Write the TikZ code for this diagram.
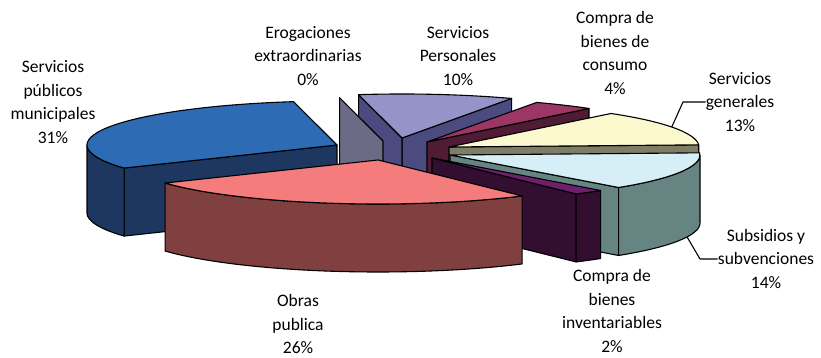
\documentclass[tikz,border=0pt]{standalone}
\usepackage{fontspec}
\setmainfont{Carlito}
\definecolor{muniTop}{RGB}{46,107,181}
\definecolor{muniSide}{RGB}{29,55,97}
\definecolor{erogSide}{RGB}{107,107,133}
\definecolor{persTop}{RGB}{148,148,200}
\definecolor{persSide}{RGB}{75,75,128}
\definecolor{consTop}{RGB}{155,54,101}
\definecolor{consSide}{RGB}{80,27,52}
\definecolor{genTop}{RGB}{252,249,206}
\definecolor{genSide}{RGB}{126,126,102}
\definecolor{subTop}{RGB}{214,238,245}
\definecolor{subSide}{RGB}{102,133,130}
\definecolor{invTop}{RGB}{110,32,110}
\definecolor{invSide}{RGB}{50,14,48}
\definecolor{obrasTop}{RGB}{244,124,124}
\definecolor{obrasSide}{RGB}{128,64,64}
\begin{document}
\begin{tikzpicture}[x=1pt, y=1pt, line join=round, x radius=250pt, y radius=44pt,
  slice/.style={draw=black, line width=1.1pt},
  pie label/.style={font=\fontsize{17.5}{23.5}\selectfont, align=center, inner sep=0pt},
  leader/.style={draw=black, line width=1.1pt}]
\useasboundingbox (0,0) rectangle (821,358);
\coordinate (pers-c) at (402,220);
\coordinate (erog-c) at (383,217);
\coordinate (cons-c) at (427,216);
\coordinate (gen-c) at (449,211);
\coordinate (sub-c) at (450,203);
\coordinate (inv-c) at (432,200);
\coordinate (muni-c) at (337,213);
\coordinate (obras-c) at (378,198);
\begin{scope}[every path/.style={slice}]
\filldraw[fill=persSide] (pers-c) -- ++(64:250pt and 44pt) -- ++(0,-68) -- ++(244:250pt and 44pt) -- cycle;
\filldraw[fill=persSide] (pers-c) -- ++(100:250pt and 44pt) -- ++(0,-68) -- ++(280:250pt and 44pt) -- cycle;
\filldraw[fill=persTop] (pers-c) -- ++(64:250pt and 44pt) arc[start angle=64, end angle=100] -- cycle;
\filldraw[fill=erogSide] (erog-c) -- ++(100:250pt and 44pt) -- ++(0,-68) -- ++(280:250pt and 44pt) -- cycle;
\filldraw[fill=consSide] (cons-c) -- ++(49.6:250pt and 44pt) -- ++(0,-68) -- ++(229.6:250pt and 44pt) -- cycle;
\filldraw[fill=consTop] (cons-c) -- ++(49.6:250pt and 44pt) arc[start angle=49.6, end angle=64] -- cycle;
\filldraw[fill=genSide] (gen-c) -- ++(2.8:250pt and 44pt) -- ++(0,-68) -- ++(182.8:250pt and 44pt) -- cycle;
\filldraw[fill=genTop] (gen-c) -- ++(2.8:250pt and 44pt) arc[start angle=2.8, end angle=49.6] -- cycle;
\filldraw[fill=subSide] (sub-c) -- ++(-47.6:250pt and 44pt) -- ++(0,-68) -- ++(132.4:250pt and 44pt) -- cycle;
\filldraw[fill=subSide] (sub-c) ++(-47.6:250pt and 44pt) arc[start angle=-47.6, end angle=0] -- ++(0,-68) arc[start angle=0, end angle=-47.6] -- cycle;
\filldraw[fill=subTop] (sub-c) -- ++(-47.6:250pt and 44pt) arc[start angle=-47.6, end angle=2.8] -- cycle;
\filldraw[fill=invSide] (inv-c) -- ++(-54.8:250pt and 44pt) -- ++(0,-68) -- ++(125.2:250pt and 44pt) -- cycle;
\filldraw[fill=invSide] (inv-c) ++(-54.8:250pt and 44pt) arc[start angle=-54.8, end angle=-47.6] -- ++(0,-68) arc[start angle=-47.6, end angle=-54.8] -- cycle;
\filldraw[fill=invTop] (inv-c) -- ++(-54.8:250pt and 44pt) arc[start angle=-54.8, end angle=-47.6] -- cycle;
\filldraw[fill=muniSide] (muni-c) -- ++(211.6:250pt and 44pt) -- ++(0,-68) -- ++(31.6:250pt and 44pt) -- cycle;
\filldraw[fill=muniSide] (muni-c) ++(180:250pt and 44pt) arc[start angle=180, end angle=211.6] -- ++(0,-68) arc[start angle=211.6, end angle=180] -- cycle;
\filldraw[fill=muniTop] (muni-c) -- ++(100:250pt and 44pt) arc[start angle=100, end angle=211.6] -- cycle;
\filldraw[fill=obrasSide] (obras-c) ++(-148.4:250pt and 44pt) arc[start angle=-148.4, end angle=-54.8] -- ++(0,-68) arc[start angle=-54.8, end angle=-148.4] -- cycle;
\filldraw[fill=obrasTop] (obras-c) -- ++(-148.4:250pt and 44pt) arc[start angle=-148.4, end angle=-54.8] -- cycle;
\end{scope}
\begin{scope}[every node/.style={pie label}]
\node (muni) at (53,256) {Servicios\\públicos\\municipales\\31\%};
\node (erog) at (308,302) {Erogaciones\\extraordinarias\\0\%};
\node (pers) at (458,302) {Servicios\\Personales\\10\%};
\node (cons) at (615,305) {Compra de\\bienes de\\consumo\\4\%};
\node (gen) at (740,256) {Servicios\\generales\\13\%};
\node (sub) at (766,99) {Subsidios y\\subvenciones\\14\%};
\node (inv) at (612,47) {Compra de\\bienes\\inventariables\\2\%};
\node (obras) at (298,34) {Obras\\publica\\26\%};
\end{scope}
\path (gen-c) ++(27:250pt and 44pt) coordinate (gen-tip);
\coordinate (gen-bend) at (683,256);
\path (sub-c) ++(-18.5:250pt and 44pt) ++(0,-68) coordinate (sub-tip);
\coordinate (sub-bend) at (700,99);
\draw[leader] (gen-tip) -- (gen-bend) -- (gen.west);
\draw[leader] (sub-tip) -- (sub-bend) -- (sub.west);
\end{tikzpicture}
\end{document}
